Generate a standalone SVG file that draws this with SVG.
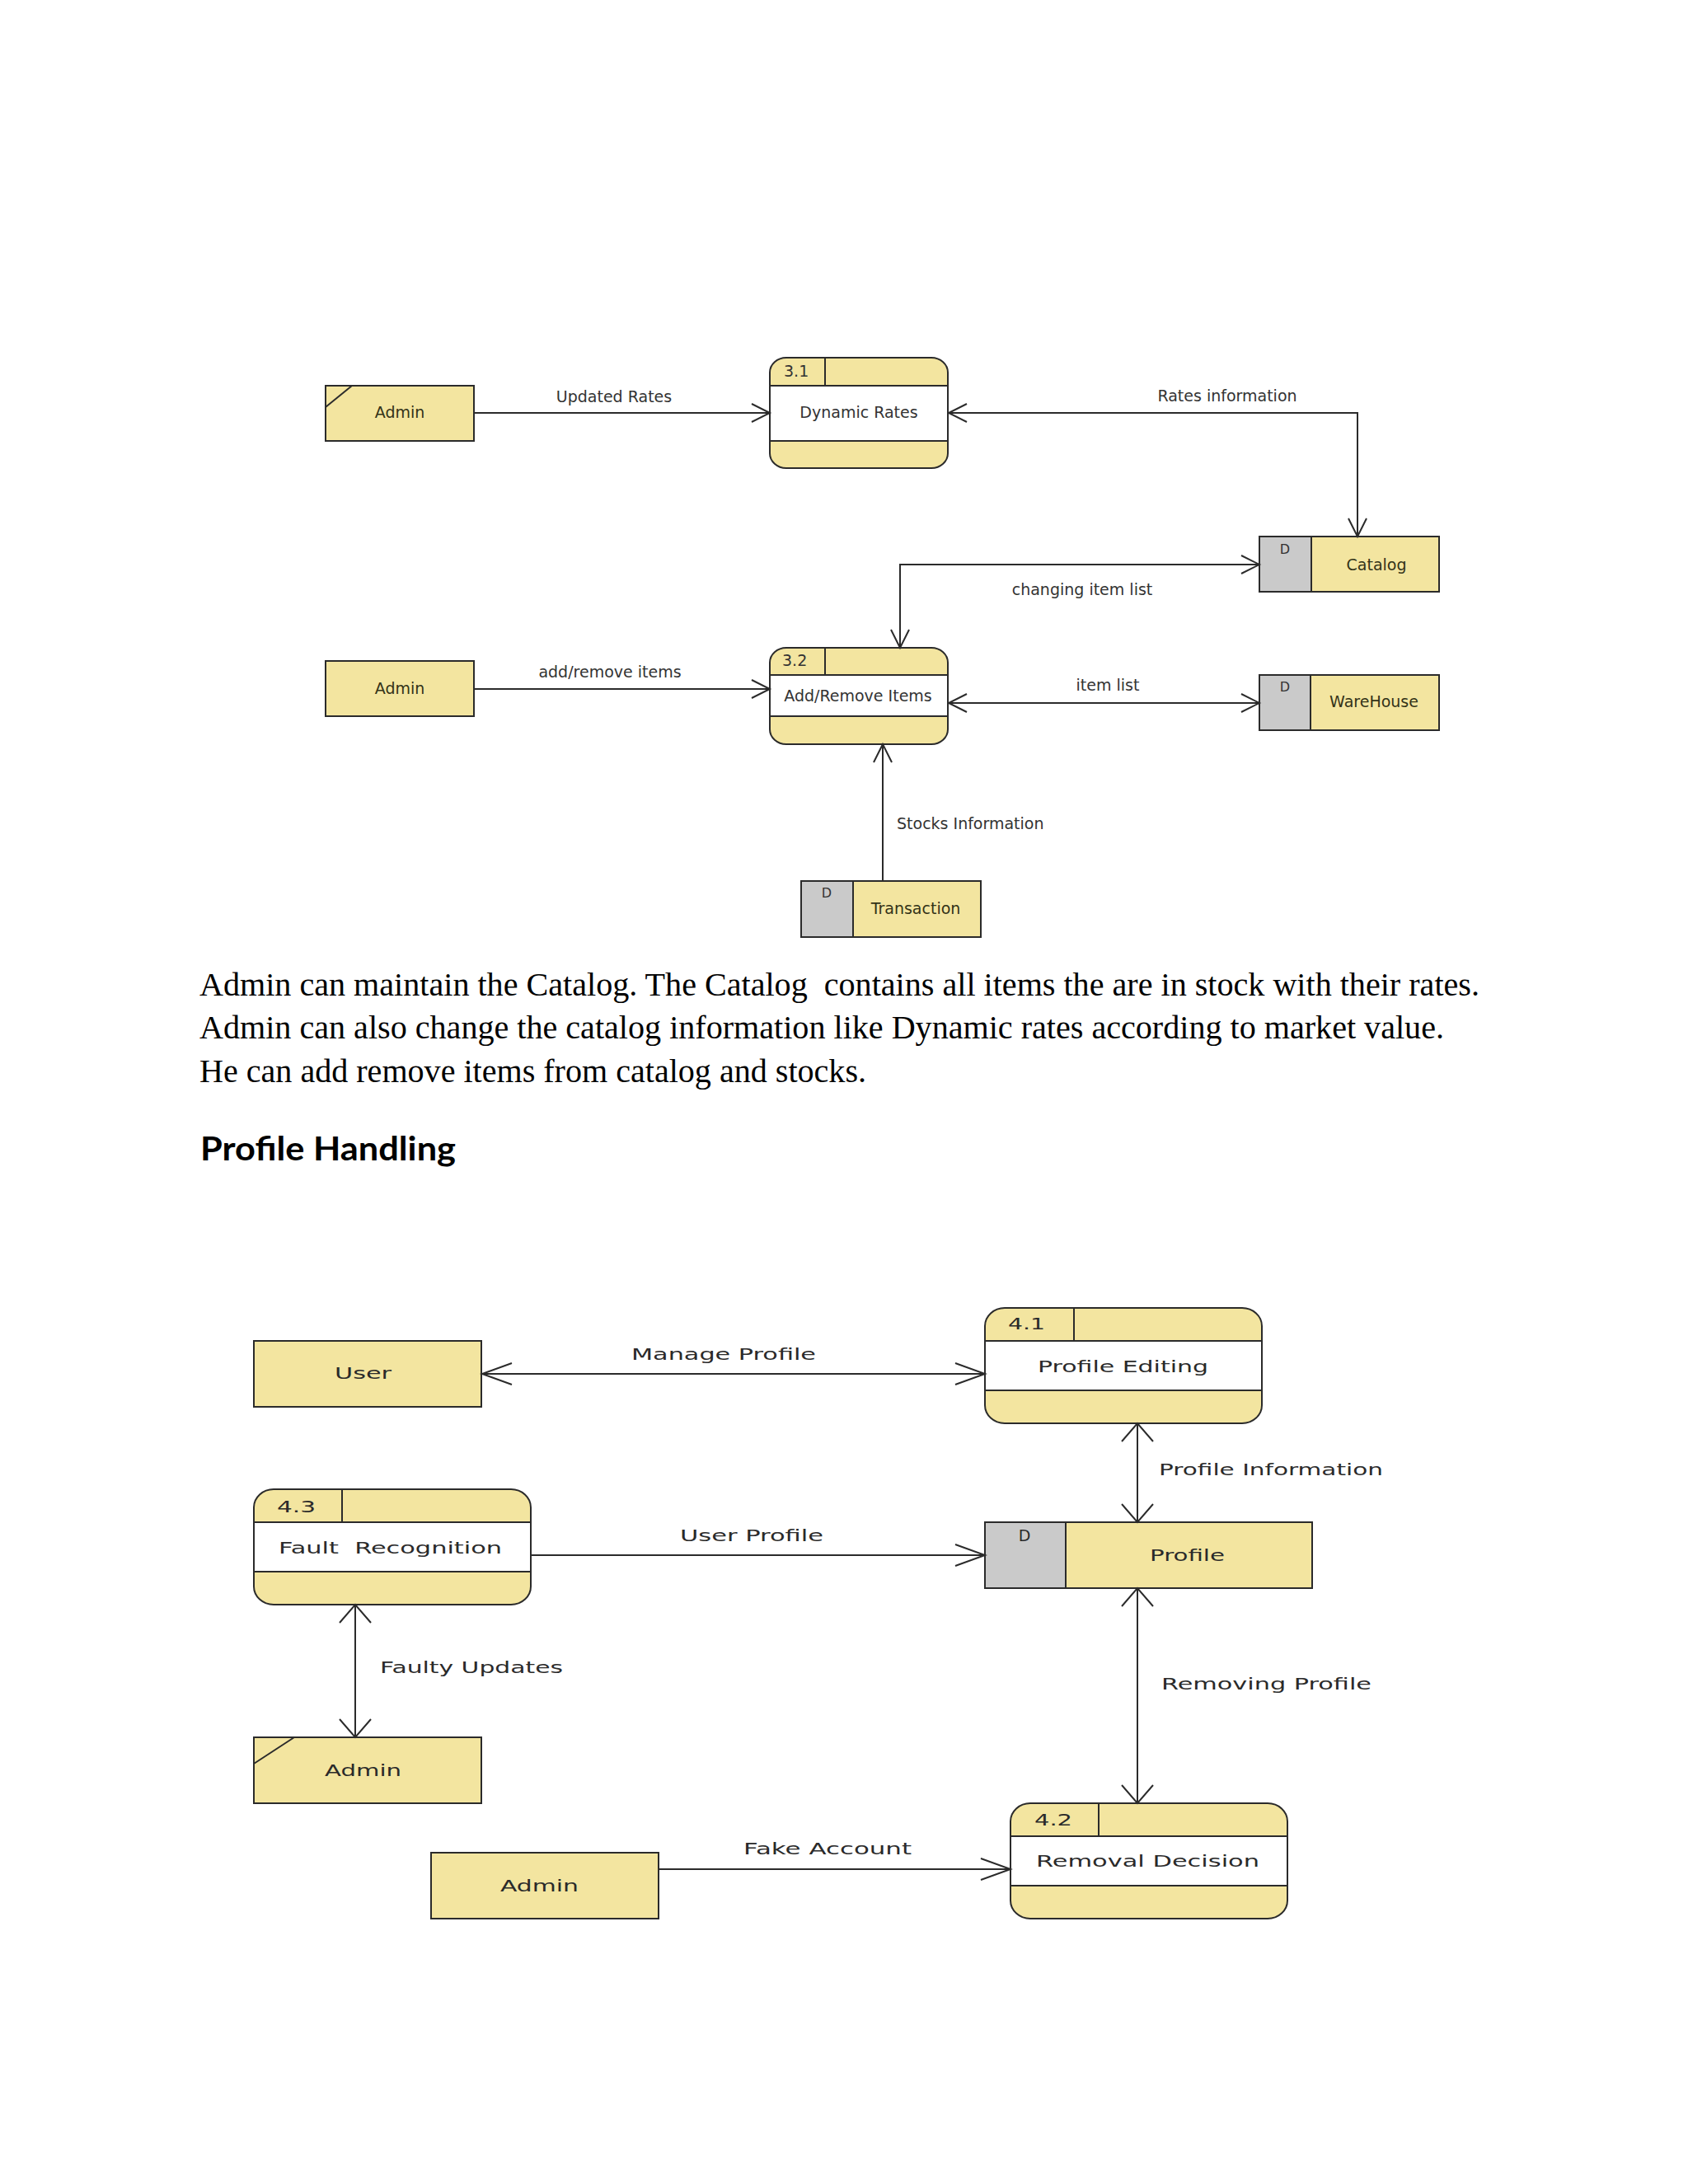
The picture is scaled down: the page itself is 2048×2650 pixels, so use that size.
<svg xmlns="http://www.w3.org/2000/svg" width="2048" height="2650" viewBox="0 0 2048 2650">
<style>
.bg{fill:#ffffff}
.y{fill:#F3E5A0;stroke:#2b2b2b;stroke-width:2}
.w{fill:#ffffff;stroke:none}
.g{fill:#CACACA;stroke:#2b2b2b;stroke-width:2}
.ln{fill:none;stroke:#2b2b2b;stroke-width:2}
.c{fill:none;stroke:#2b2b2b;stroke-width:2}
.t{font-family:"DejaVu Sans",sans-serif;font-size:19px;fill:#333333}
.tn{font-family:"DejaVu Sans",sans-serif;font-size:19px;fill:#333318}
.td{font-family:"DejaVu Sans",sans-serif;font-size:16px;fill:#333333}
.b{font-family:"DejaVu Sans",sans-serif;font-size:20px;fill:#2a2a2a}
.bd{font-family:"DejaVu Sans",sans-serif;font-size:19px;fill:#2a2a2a}
.p{font-family:"Liberation Serif","Times New Roman",serif;font-size:40px;fill:#000000}
.h{font-family:Lato,"Liberation Sans",sans-serif;font-weight:700;font-size:40px;fill:#000000}
.m{text-anchor:middle}
</style>
<defs>
<marker id="aT" markerUnits="userSpaceOnUse" orient="auto-start-reverse" viewBox="-30 -20 40 40" markerWidth="40" markerHeight="40" refX="0" refY="0" overflow="visible">
<path d="M-22,-11 L0,0 L-22,11" fill="none" stroke="#2b2b2b" stroke-width="2"/>
</marker>
<marker id="aH" markerUnits="userSpaceOnUse" orient="auto-start-reverse" viewBox="-40 -20 50 40" markerWidth="50" markerHeight="40" refX="0" refY="0" overflow="visible">
<path d="M-36,-13 L0,0 L-36,13" fill="none" stroke="#2b2b2b" stroke-width="2"/>
</marker>
<marker id="aV" markerUnits="userSpaceOnUse" orient="auto-start-reverse" viewBox="-30 -25 40 50" markerWidth="40" markerHeight="50" refX="0" refY="0" overflow="visible">
<path d="M-22,-19 L0,0 L-22,19" fill="none" stroke="#2b2b2b" stroke-width="2"/>
</marker>
</defs>
<rect class="bg" x="0" y="0" width="2048" height="2650"/>

<!-- ===== Top diagram ===== -->
<g id="admin-1">
<rect class="y" x="395" y="468" width="180" height="67"/>
<line class="ln" x1="395" y1="494" x2="427" y2="468"/>
<text class="tn m" x="485" y="507">Admin</text>
</g>
<g id="proc-3-1">
<rect class="y" x="934" y="434" width="216" height="134" rx="20" ry="18"/>
<rect class="w" x="935" y="469" width="214" height="65"/>
<line class="ln" x1="934" y1="468" x2="1150" y2="468"/>
<line class="ln" x1="934" y1="535" x2="1150" y2="535"/>
<line class="ln" x1="1001" y1="434" x2="1001" y2="468"/>
<text class="t" x="951" y="457">3.1</text>
<text class="t m" x="1042" y="507">Dynamic Rates</text>
</g>
<g id="store-catalog">
<rect class="y" x="1528" y="651" width="218" height="67" stroke="none"/>
<rect class="g" x="1528" y="651" width="63" height="67"/>
<line class="ln" x1="1591" y1="651" x2="1746" y2="651"/>
<line class="ln" x1="1591" y1="718" x2="1746" y2="718"/>
<text class="td m" x="1559" y="672">D</text>
<text class="tn m" x="1670" y="692">Catalog</text>
</g>
<g id="admin-2">
<rect class="y" x="395" y="802" width="180" height="67"/>
<text class="tn m" x="485" y="842">Admin</text>
</g>
<g id="proc-3-2">
<rect class="y" x="934" y="786" width="216" height="117" rx="20" ry="18"/>
<rect class="w" x="935" y="820" width="214" height="48"/>
<line class="ln" x1="934" y1="819" x2="1150" y2="819"/>
<line class="ln" x1="934" y1="869" x2="1150" y2="869"/>
<line class="ln" x1="1001" y1="786" x2="1001" y2="819"/>
<text class="t" x="949" y="808">3.2</text>
<text class="t m" x="1041" y="851">Add/Remove Items</text>
</g>
<g id="store-warehouse">
<rect class="y" x="1528" y="819" width="218" height="67" stroke="none"/>
<rect class="g" x="1528" y="819" width="62" height="67"/>
<line class="ln" x1="1590" y1="819" x2="1746" y2="819"/>
<line class="ln" x1="1590" y1="886" x2="1746" y2="886"/>
<text class="td m" x="1559" y="839">D</text>
<text class="tn m" x="1667" y="858">WareHouse</text>
</g>
<g id="store-transaction">
<rect class="y" x="972" y="1069" width="218" height="68" stroke="none"/>
<rect class="g" x="972" y="1069" width="63" height="68"/>
<line class="ln" x1="1035" y1="1069" x2="1190" y2="1069"/>
<line class="ln" x1="1035" y1="1137" x2="1190" y2="1137"/>
<text class="td m" x="1003" y="1089">D</text>
<text class="tn m" x="1111" y="1109">Transaction</text>
</g>

<!-- ===== Text ===== -->
<g id="paragraph">
<text class="p" x="242" y="1208" xml:space="preserve" textLength="1553" lengthAdjust="spacingAndGlyphs">Admin can maintain the Catalog. The Catalog  contains all items the are in stock with their rates.</text>
<text class="p" x="242" y="1260" textLength="1510" lengthAdjust="spacingAndGlyphs">Admin can also change the catalog information like Dynamic rates according to market value.</text>
<text class="p" x="242" y="1313" textLength="809" lengthAdjust="spacingAndGlyphs">He can add remove items from catalog and stocks.</text>
<text class="h" x="243" y="1408" textLength="310" lengthAdjust="spacingAndGlyphs">Profile Handling</text>
</g>

<!-- ===== Bottom diagram ===== -->
<g id="user">
<rect class="y" x="308" y="1627" width="276" height="80"/>
<text class="b" x="406" y="1673" textLength="69" lengthAdjust="spacingAndGlyphs">User</text>
</g>
<g id="proc-4-1">
<rect class="y" x="1195" y="1587" width="336" height="140" rx="24" ry="22"/>
<rect class="w" x="1196" y="1628" width="334" height="58"/>
<line class="ln" x1="1195" y1="1627" x2="1531" y2="1627"/>
<line class="ln" x1="1195" y1="1687" x2="1531" y2="1687"/>
<line class="ln" x1="1303" y1="1587" x2="1303" y2="1627"/>
<text class="b" x="1223" y="1613" textLength="45" lengthAdjust="spacingAndGlyphs">4.1</text>
<text class="b" x="1259" y="1665" textLength="207" lengthAdjust="spacingAndGlyphs">Profile Editing</text>
</g>
<g id="proc-4-3">
<rect class="y" x="308" y="1807" width="336" height="140" rx="24" ry="22"/>
<rect class="w" x="309" y="1848" width="334" height="58"/>
<line class="ln" x1="308" y1="1847" x2="644" y2="1847"/>
<line class="ln" x1="308" y1="1907" x2="644" y2="1907"/>
<line class="ln" x1="415" y1="1807" x2="415" y2="1847"/>
<text class="b" x="336" y="1835" textLength="47" lengthAdjust="spacingAndGlyphs">4.3</text>
<text class="b" x="338" y="1885" xml:space="preserve" textLength="271" lengthAdjust="spacingAndGlyphs">Fault  Recognition</text>
</g>
<g id="store-profile">
<rect class="y" x="1195" y="1847" width="397" height="80" stroke="none"/>
<rect class="g" x="1195" y="1847" width="98" height="80"/>
<line class="ln" x1="1293" y1="1847" x2="1592" y2="1847"/>
<line class="ln" x1="1293" y1="1927" x2="1592" y2="1927"/>
<text class="bd m" x="1243" y="1870">D</text>
<text class="b" x="1395" y="1894" textLength="91" lengthAdjust="spacingAndGlyphs">Profile</text>
</g>
<g id="admin-3">
<rect class="y" x="308" y="2108" width="276" height="80"/>
<line class="ln" x1="308" y1="2140" x2="357" y2="2108"/>
<text class="b" x="394" y="2155" textLength="93" lengthAdjust="spacingAndGlyphs">Admin</text>
</g>
<g id="proc-4-2">
<rect class="y" x="1226" y="2188" width="336" height="140" rx="24" ry="22"/>
<rect class="w" x="1227" y="2229" width="334" height="58"/>
<line class="ln" x1="1226" y1="2228" x2="1562" y2="2228"/>
<line class="ln" x1="1226" y1="2288" x2="1562" y2="2288"/>
<line class="ln" x1="1333" y1="2188" x2="1333" y2="2228"/>
<text class="b" x="1255" y="2215" textLength="46" lengthAdjust="spacingAndGlyphs">4.2</text>
<text class="b" x="1257" y="2265" textLength="271" lengthAdjust="spacingAndGlyphs">Removal Decision</text>
</g>
<g id="admin-4">
<rect class="y" x="523" y="2248" width="276" height="80"/>
<text class="b" x="607" y="2295" textLength="95" lengthAdjust="spacingAndGlyphs">Admin</text>
</g>

<!-- ===== Connectors ===== -->
<g id="connectors">
<path class="c" d="M575,501 H934" marker-end="url(#aT)"/>
<path class="c" d="M1151,501 H1647 V651" marker-start="url(#aT)" marker-end="url(#aT)"/>
<path class="c" d="M1092,786 V685 H1528" marker-start="url(#aT)" marker-end="url(#aT)"/>
<path class="c" d="M575,836 H934" marker-end="url(#aT)"/>
<path class="c" d="M1151,853 H1528" marker-start="url(#aT)" marker-end="url(#aT)"/>
<path class="c" d="M1071,1069 V903" marker-end="url(#aT)"/>

<path class="c" d="M585,1667 H1195" marker-start="url(#aH)" marker-end="url(#aH)"/>
<path class="c" d="M1380,1727 V1847" marker-start="url(#aV)" marker-end="url(#aV)"/>
<path class="c" d="M644,1887 H1195" marker-end="url(#aH)"/>
<path class="c" d="M431,1947 V2108" marker-start="url(#aV)" marker-end="url(#aV)"/>
<path class="c" d="M1380,1927 V2188" marker-start="url(#aV)" marker-end="url(#aV)"/>
<path class="c" d="M799,2268 H1226" marker-end="url(#aH)"/>

<text class="t m" x="745" y="488">Updated Rates</text>
<text class="t m" x="1489" y="487">Rates information</text>
<text class="t m" x="1313" y="722">changing item list</text>
<text class="t m" x="740" y="822">add/remove items</text>
<text class="t m" x="1344" y="838">item list</text>
<text class="t" x="1088" y="1006">Stocks Information</text>

<text class="b" x="766" y="1650" textLength="224" lengthAdjust="spacingAndGlyphs">Manage Profile</text>
<text class="b" x="1406" y="1790" textLength="272" lengthAdjust="spacingAndGlyphs">Profile Information</text>
<text class="b" x="825" y="1870" textLength="174" lengthAdjust="spacingAndGlyphs">User Profile</text>
<text class="b" x="461" y="2030" textLength="222" lengthAdjust="spacingAndGlyphs">Faulty Updates</text>
<text class="b" x="1409" y="2050" textLength="255" lengthAdjust="spacingAndGlyphs">Removing Profile</text>
<text class="b" x="902" y="2250" textLength="204" lengthAdjust="spacingAndGlyphs">Fake Account</text>
</g>
</svg>
